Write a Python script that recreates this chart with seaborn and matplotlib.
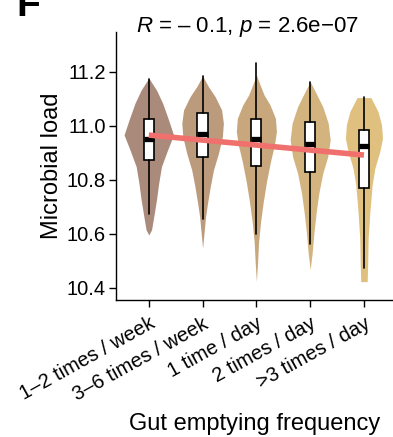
import numpy as np
import seaborn as sns
import matplotlib
matplotlib.use("Agg")
import matplotlib.pyplot as plt

# categories
groups = ["1\u20132 times / week", "3\u20136 times / week", "1 time / day",
          "2 times / day", ">3 times / day"]

# violin outlines: y levels and relative density (1 = widest)
g1_y = [11.176, 11.132, 11.083, 11.021, 10.966, 10.910, 10.848, 10.787, 10.725, 10.663, 10.614, 10.595]
g1_d = [0.0, 0.31, 0.56, 0.80, 1.00, 0.76, 0.51, 0.40, 0.31, 0.20, 0.11, 0.0]
g2_y = [11.184, 11.144, 11.107, 11.058, 11.009, 10.959, 10.897, 10.836, 10.774, 10.713, 10.663, 10.614, 10.546]
g2_d = [0.0, 0.24, 0.51, 0.77, 0.84, 0.80, 0.64, 0.44, 0.31, 0.20, 0.12, 0.07, 0.0]
g3_y = [11.188, 11.151, 11.114, 11.077, 11.027, 10.978, 10.929, 10.867, 10.793, 10.719, 10.644, 10.570, 10.496, 10.422]
g3_d = [0.0, 0.15, 0.31, 0.55, 0.77, 0.81, 0.73, 0.57, 0.41, 0.28, 0.17, 0.09, 0.05, 0.0]
g4_y = [11.163, 11.120, 11.070, 11.009, 10.947, 10.885, 10.824, 10.750, 10.676, 10.601, 10.527, 10.466]
g4_d = [0.0, 0.24, 0.51, 0.73, 0.81, 0.71, 0.51, 0.35, 0.24, 0.15, 0.08, 0.0]
g5_y = [11.104, 11.052, 11.003, 10.953, 10.904, 10.842, 10.780, 10.681, 10.583, 10.484, 10.422]
g5_d = [0.28, 0.57, 0.71, 0.75, 0.64, 0.44, 0.33, 0.24, 0.17, 0.15, 0.13]

# box plot summaries
whis_hi = [11.173, 11.184, 11.231, 11.163, 11.105]
q3 = [11.023, 11.047, 11.026, 11.012, 10.983]
median = [10.952, 10.969, 10.949, 10.931, 10.925]
q1 = [10.873, 10.885, 10.851, 10.830, 10.768]
whis_lo = [10.672, 10.654, 10.599, 10.560, 10.474]

# linear fit across the ordered categories
fit_y = [10.965, 10.9465, 10.928, 10.9095, 10.891]

y_ticks = [10.4, 10.6, 10.8, 11.0, 11.2]
title_txt = "$R$ = \u2013 0.1, $p$ = 2.6e\u221207"

colors = ["#AA8B7B", "#BC9B7D", "#C8A77D", "#D4B47E", "#DFC07E"]

sns.set_style("ticks")
plt.rcParams["font.family"] = ["Liberation Sans", "DejaVu Sans"]
plt.rcParams["mathtext.fontset"] = "custom"
plt.rcParams["mathtext.rm"] = "Liberation Sans"
plt.rcParams["mathtext.it"] = "Liberation Sans:italic"
plt.rcParams["text.color"] = "black"
plt.rcParams["axes.labelcolor"] = "black"

fig = plt.figure(figsize=(3.93, 4.37), dpi=100)
ax = fig.add_axes([116 / 393, 1 - 300 / 437, 1 - 116 / 393, (300 - 32) / 437])

violins = [(g1_y, g1_d), (g2_y, g2_d), (g3_y, g3_d), (g4_y, g4_d), (g5_y, g5_d)]
half_max = 0.46
for i, (vy, vd) in enumerate(violins):
    vy = np.array(vy)
    vd = np.array(vd) * half_max
    ax.fill_betweenx(vy, i - vd, i + vd, color=colors[i], linewidth=0, zorder=1)

stats = []
for i in range(len(groups)):
    stats.append(dict(med=median[i], q1=q1[i], q3=q3[i],
                      whislo=whis_lo[i], whishi=whis_hi[i], fliers=[]))
ax.bxp(stats, positions=range(len(groups)), widths=0.19, patch_artist=True,
       showcaps=False, showfliers=False,
       boxprops=dict(facecolor="white", edgecolor="black", linewidth=1.2),
       whiskerprops=dict(color="black", linewidth=1.2),
       medianprops=dict(color="black", linewidth=3.8, solid_capstyle="butt"),
       zorder=2)

sns.lineplot(x=list(range(len(groups))), y=fit_y, color="#F0706E", linewidth=4,
             ax=ax, zorder=3, solid_capstyle="butt")

ax.set_xlim(-0.61, 4.54)
ax.set_ylim(10.354, 11.347)
ax.set_yticks(y_ticks)
ax.set_yticklabels([f"{v:.1f}" for v in y_ticks])
ax.set_xticks(range(len(groups)))
ax.set_xticklabels(groups, rotation=29, ha="right", rotation_mode="anchor")
ax.tick_params(axis="both", labelsize=14.5, length=5, width=1, color="black",
               labelcolor="black", pad=2.5)
ax.tick_params(axis="x", pad=5)

ax.spines["top"].set_visible(False)
ax.spines["right"].set_visible(False)
for s in ["left", "bottom"]:
    ax.spines[s].set_linewidth(1)
    ax.spines[s].set_color("black")
ax.set_xlabel("Gut emptying frequency", fontsize=17)
ax.xaxis.set_label_coords(0.502, -0.422)
ax.set_ylabel("Microbial load", fontsize=17)
ax.yaxis.set_label_coords(-0.19, 0.502)

fig.text(247.5 / 393, 1 - 32 / 437, title_txt, ha="center", va="baseline", fontsize=16)
fig.text(16 / 393, 1 - 16 / 437, "F", ha="left", va="baseline", fontsize=28,
         fontweight="bold")

fig.savefig("out.png", dpi=100)
